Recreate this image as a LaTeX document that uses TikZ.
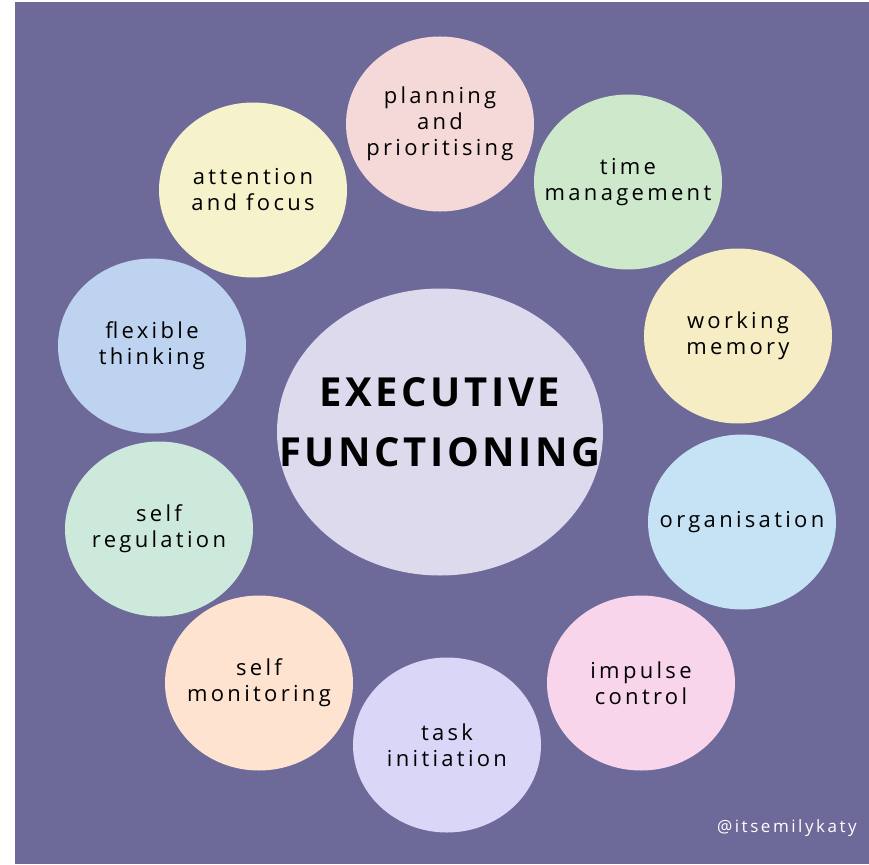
\documentclass[tikz,border=0pt]{standalone}
\usepackage{fontspec}
\usetikzlibrary{shapes.geometric}
\newfontfamily\handfont[LetterSpace=15]{Open Sans}
\newfontfamily\titlefont[LetterSpace=9]{Open Sans Bold}
\definecolor{bgpurple}{HTML}{6D6A99}
\definecolor{cplan}{HTML}{F5D9D9}
\definecolor{ctime}{HTML}{CEE8CC}
\definecolor{cwork}{HTML}{F7EDC4}
\definecolor{corg}{HTML}{C5E3F5}
\definecolor{cimp}{HTML}{F9D5EC}
\definecolor{ctask}{HTML}{D9D6F8}
\definecolor{cmon}{HTML}{FDE3D0}
\definecolor{creg}{HTML}{CDE9DC}
\definecolor{cflex}{HTML}{BDD3F0}
\definecolor{catt}{HTML}{F6F3CC}
\definecolor{ccenter}{HTML}{DCDAEC}
\tikzset{
  blob/.style={ellipse, draw=none, minimum width=188pt, minimum height=175pt, inner sep=0pt},
  bigblob/.style={ellipse, draw=none, minimum width=326pt, minimum height=287pt, inner sep=0pt},
  blobtext/.style={align=center, text=black, inner sep=0pt,
    font=\handfont\fontsize{22}{26}\selectfont},
  titletext/.style={text=black, inner sep=0pt, font=\titlefont\fontsize{40}{48}\selectfont},
  credit/.style={text=white, inner sep=0pt, font=\handfont\fontsize{17}{20}\selectfont}
}
\begin{document}
\begin{tikzpicture}[x=1pt,y=-1pt]
\useasboundingbox (0,0) rectangle (869,864);
\fill[white] (0,0) rectangle (869,864);
\fill[bgpurple] (15,2) rectangle (869,864);
\node[bigblob, fill=ccenter] (center) at (440,432) {};
\node[titletext] (t1) at (440,392) {EXECUTIVE};
\node[titletext] (t2) at (440,452) {FUNCTIONING};
\node[blob, fill=cplan] (plan) at (440,124) {};
\node[blob, fill=ctime] (time) at (628,182) {};
\node[blob, fill=cwork] (work) at (738,336) {};
\node[blob, fill=corg] (org) at (742,522) {};
\node[blob, fill=cimp] (imp) at (641,683) {};
\node[blob, fill=ctask] (task) at (447,745) {};
\node[blob, fill=cmon] (mon) at (259,683) {};
\node[blob, fill=creg] (reg) at (159,529) {};
\node[blob, fill=cflex] (flex) at (152,346) {};
\node[blob, fill=catt] (att) at (253,190) {};
\node[blobtext] (plant) at (plan) {planning\\and\\prioritising};
\node[blobtext] (timet) at (time) {time\\management};
\node[blobtext] (workt) at (work) {working\\memory};
\node[blobtext] (orgt) at (org) {organisation};
\node[blobtext] (impt) at (imp) {impulse\\control};
\node[blobtext] (taskt) at (task) {task\\initiation};
\node[blobtext] (mont) at (mon) {self\\monitoring};
\node[blobtext] (regt) at (reg) {self\\regulation};
\node[blobtext] (flext) at (flex) {flexible\\thinking};
\node[blobtext] (attt) at (att) {attention\\and focus};
\node[credit, anchor=east] (credit) at (857,828) {@itsemilykaty};
\end{tikzpicture}
\end{document}
